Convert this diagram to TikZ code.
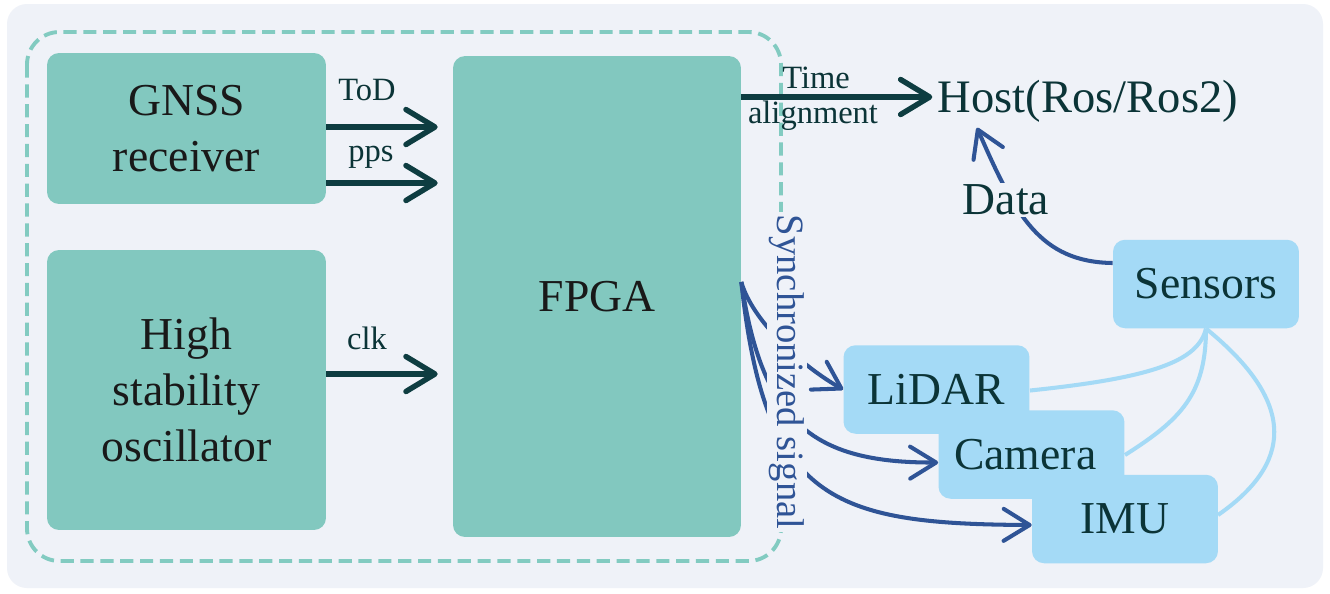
\documentclass[tikz,border=0pt]{standalone}
\usepackage{fontspec}
\setmainfont{Liberation Serif}
\usetikzlibrary{arrows.meta}
\definecolor{bgc}{HTML}{EFF2F8}
\definecolor{tealbox}{HTML}{82C8BF}
\definecolor{dashc}{HTML}{82CBC1}
\definecolor{darkarr}{HTML}{0E3D41}
\definecolor{bluearr}{HTML}{2F5496}
\definecolor{lblue}{HTML}{A4DAF6}
\definecolor{txtdark}{HTML}{0B3437}
\begin{document}
\begin{tikzpicture}[x=0.02cm,y=-0.02cm,
 bigfont/.style={font=\fontsize{26}{32}\selectfont},
 labfont/.style={font=\fontsize{18.5}{22}\selectfont},
 tbox/.style={fill=tealbox, rounded corners=0.24cm, bigfont, align=center, text=black!90, inner sep=0pt},
 sbox/.style={fill=lblue, rounded corners=0.24cm, bigfont, text=txtdark, minimum width=3.72cm, minimum height=1.77cm, inner sep=0pt},
 darrow/.style={draw=darkarr, line width=3.1pt, -{Straight Barb[length=0.58cm,width=0.7cm,round]}},
 barrow/.style={draw=bluearr, line width=2.3pt, -{Straight Barb[length=0.52cm,width=0.64cm,round]}},
 slink/.style={draw=lblue, line width=2.3pt},
 lab/.style={labfont, text=txtdark, inner sep=0pt},
]
\useasboundingbox (0,0) rectangle (1330,593);
\fill[white] (0,0) rectangle (1330,593);
\fill[bgc, rounded corners=0.4cm] (7,4) rectangle (1323,588);
\draw[dashc, line width=2.2pt, dash pattern=on 7.5pt off 3.8pt, rounded corners=0.65cm] (27,32) rectangle (781,561);

% left boxes
\node[tbox, minimum width=5.58cm, minimum height=3.02cm] (gnss) at (186.5,128.5) {GNSS\\receiver};
\node[tbox, minimum width=5.58cm, minimum height=5.6cm] (osc) at (186.5,390) {High\\stability\\oscillator};
\node[tbox, minimum width=5.76cm, minimum height=9.62cm] (fpga) at (597,296.5) {FPGA};

\path ([xshift=-0.3cm]fpga.west) coordinate (fin);
\draw[darrow] (gnss.east |- 0,127) -- (fin |- 0,127);
\draw[darrow] (gnss.east |- 0,183) -- (fin |- 0,183);
\draw[darrow] (osc.east |- 0,374) -- (fin |- 0,374);
\node[lab] (tod) at (367,90) {ToD};
\node[lab] (pps) at (371,157) {pps};
\node[lab] (clk) at (367,338) {clk};

% host
\node[font=\fontsize{26.5}{30}\selectfont, text=txtdark, inner sep=3pt] (host) at (1088,101) {Host(Ros/Ros2)};
\draw[darrow] (fpga.east |- 0,97) -- (host.west |- 0,97);
\node[lab] (time) at (816,78) {Time};
\node[lab] (align) at (813,116) {alignment};

% sensor boxes
\node[sbox] (sensors) at (1206,284) {Sensors};
\coordinate (sdown) at (sensors.south);

% light links
\draw[slink] (sdown) .. controls (1198,362) and (1150,378) .. (1030,390.5);
\draw[slink] (sdown) .. controls (1206,395) and (1180,420) .. (1125,455);
\draw[slink] (sdown) .. controls (1300,405) and (1290,465) .. (1218,515);

\node[sbox] (lidar) at (936.5,389.5) {LiDAR};
\node[sbox] (camera) at (1031.5,454.5) {\hspace*{-0.25cm}Camera};
\node[sbox] (imu) at (1125,519) {IMU};

% sync arrows
\coordinate (sy) at (fpga.east |- 0,282);
\path ([yshift=-0.16cm]camera.west) coordinate (camin);
\path ([yshift=-0.12cm]imu.west) coordinate (imuin);
\draw[barrow] (sy) .. controls (752,320) and (800,365) .. (lidar.west);
\draw[barrow] (sy) .. controls (762,420) and (810,463) .. (camin);
\draw[barrow] (sy) .. controls (765,500) and (830,524) .. (imuin);
\node[rotate=-90, fill=bgc, inner sep=1.5pt, text=bluearr, font=\fontsize{22}{24}\selectfont] (sync) at (787,372) {Synchronized signal};

% data arrow
\coordinate (dstart) at (sensors.west |- 0,263);
\draw[barrow] (dstart) .. controls (1040,262) and (1015,215) .. (host.south -| 977,0);
\node[fill=bgc, inner sep=1pt, bigfont, text=txtdark] (data) at (1006,200) {Data};
\end{tikzpicture}
\end{document}
